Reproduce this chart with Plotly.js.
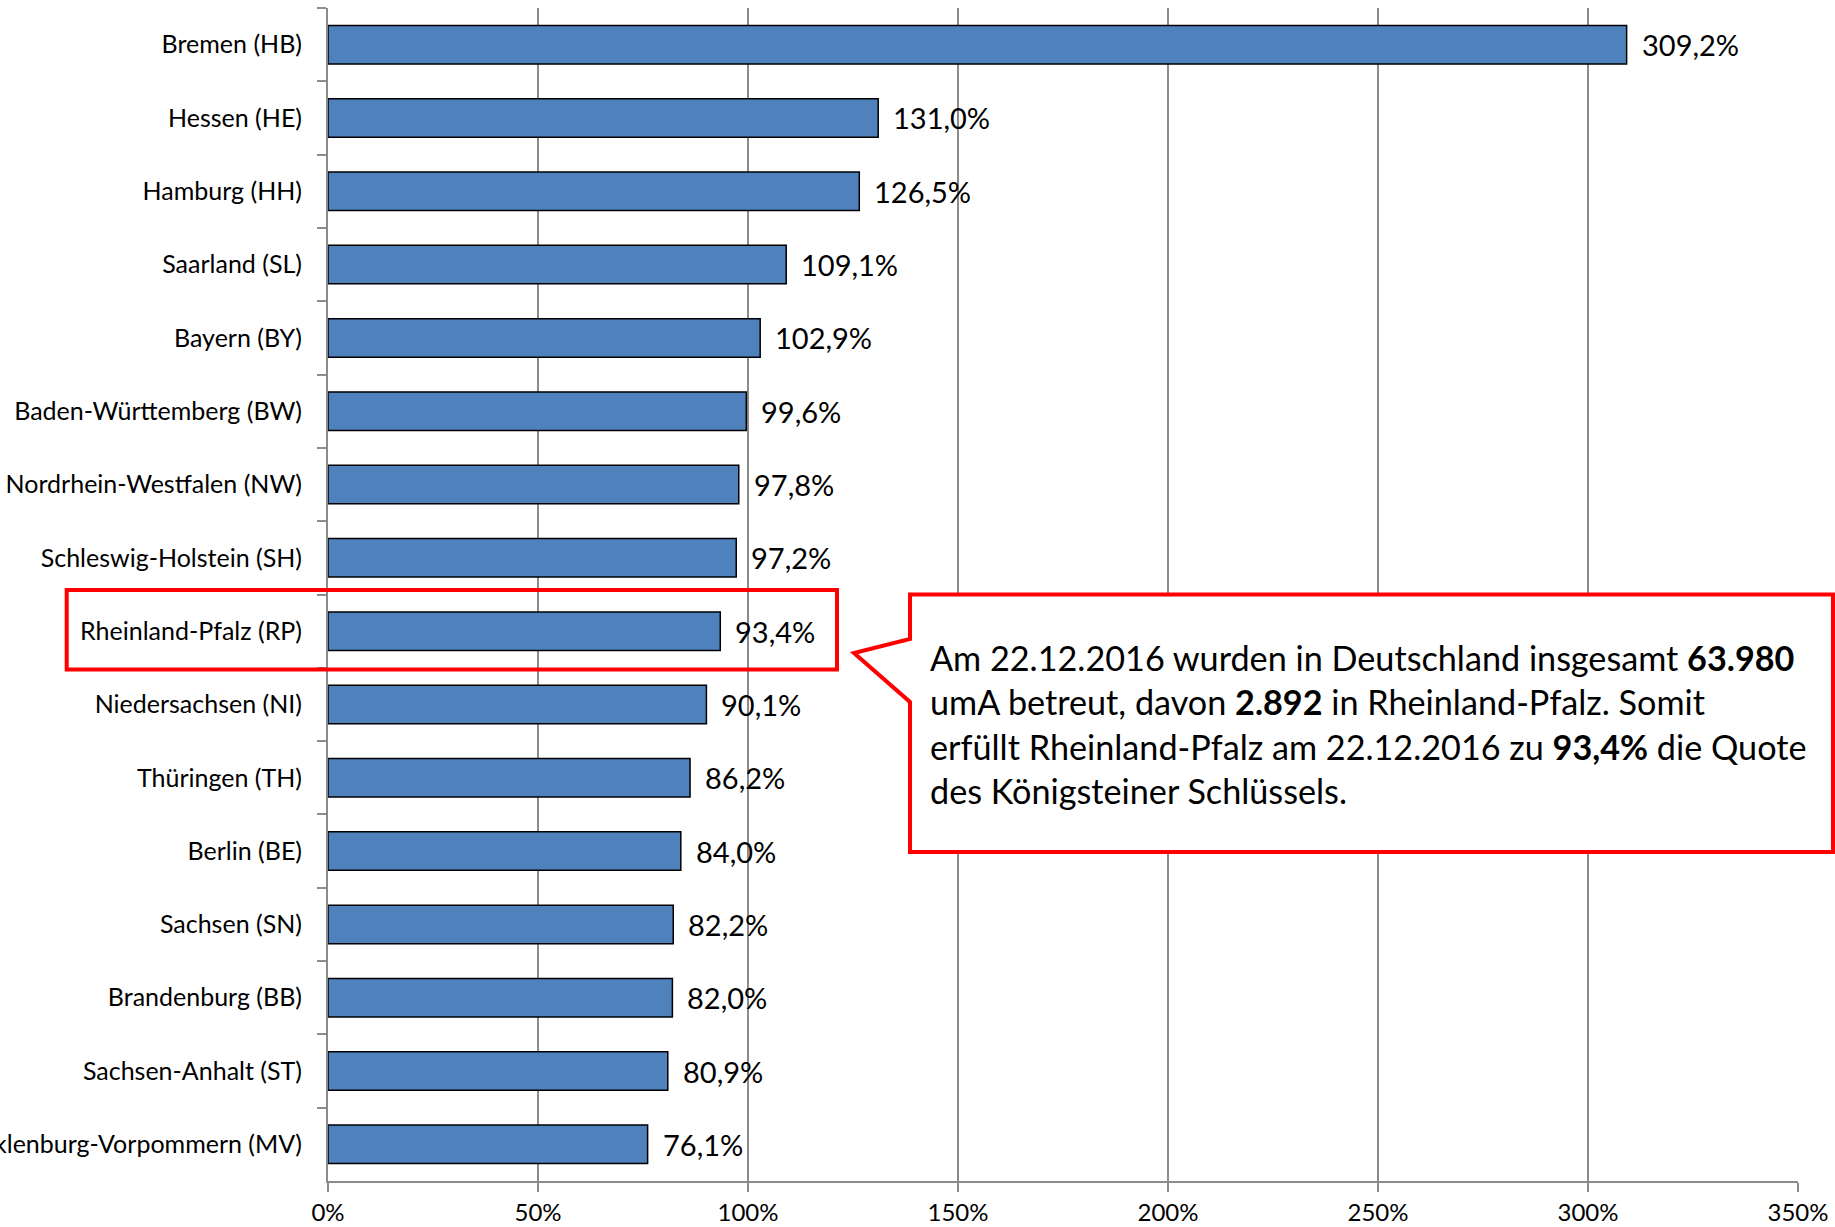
<!DOCTYPE html>
<html>
<head>
<meta charset="utf-8">
<script src="https://cdn.plot.ly/plotly-3.0.1.min.js"></script>
<style>html,body{margin:0;padding:0;background:#fff;}#chart{width:1835px;height:1227px;}</style>
</head>
<body>
<div id="chart"></div>
<script>
const categories = [
  "Bremen (HB)", "Hessen (HE)", "Hamburg (HH)", "Saarland (SL)", "Bayern (BY)",
  "Baden-Württemberg (BW)", "Nordrhein-Westfalen (NW)", "Schleswig-Holstein (SH)",
  "Rheinland-Pfalz (RP)", "Niedersachsen (NI)", "Thüringen (TH)", "Berlin (BE)",
  "Sachsen (SN)", "Brandenburg (BB)", "Sachsen-Anhalt (ST)", "Mecklenburg-Vorpommern (MV)"
];
const values = [309.2, 131.0, 126.5, 109.1, 102.9, 99.6, 97.8, 97.2, 93.4, 90.1, 86.2, 84.0, 82.2, 82.0, 80.9, 76.1];
const xTickValues = [0, 50, 100, 150, 200, 250, 300, 350];
const xTickLabels = ["0%", "50%", "100%", "150%", "200%", "250%", "300%", "350%"];
const calloutLines = [
  "Am 22.12.2016 wurden in Deutschland insgesamt <b>63.980</b>",
  "umA betreut, davon <b>2.892</b> in Rheinland-Pfalz. Somit",
  "erfüllt Rheinland-Pfalz am 22.12.2016 zu <b>93,4%</b> die Quote",
  "des Königsteiner Schlüssels."
];

const W = 1835, H = 1227;
const M = {l: 328, r: 37, t: 8, b: 46};
const pw = W - M.l - M.r, ph = H - M.t - M.b;
const px = x => (x - M.l) / pw;
const py = y => (H - M.b - y) / ph;

const FONT = "Lato, 'Open Sans', sans-serif";
const GRID = "#8c8c8c";

const fmt = v => v.toFixed(1).replace(".", ",") + "%";

const trace = {
  type: "bar",
  orientation: "h",
  x: values,
  y: categories,
  marker: {color: "#4f81bd", line: {color: "#000000", width: 1.5}},
  hoverinfo: "skip"
};

const annotations = values.map((v, i) => ({
  x: v, y: categories[i], xref: "x", yref: "y",
  text: fmt(v), showarrow: false, xanchor: "left", yanchor: "middle",
  xshift: 13, font: {family: FONT, size: 29, color: "#000"}
}));

annotations.push({
  xref: "paper", yref: "paper",
  x: px(928), y: py(724),
  xanchor: "left", yanchor: "middle", align: "left",
  showarrow: false,
  text: calloutLines.join("<br>"),
  font: {family: FONT, size: 34.2, color: "#000"}
});

const path = [[910, 594.5], [1833, 594.5], [1833, 852], [910, 852], [910, 702], [854, 653], [910, 639]]
  .map((p, i) => (i ? "L" : "M") + px(p[0]).toFixed(5) + "," + py(p[1]).toFixed(5)).join(" ") + " Z";

const shapes = [
  {type: "rect", xref: "paper", yref: "paper", x0: px(66.7), x1: px(837), y0: py(590), y1: py(669.4),
   line: {color: "#ff0000", width: 4}, fillcolor: "rgba(0,0,0,0)", layer: "above"},
  {type: "path", xref: "paper", yref: "paper", path: path,
   line: {color: "#ff0000", width: 4}, fillcolor: "#ffffff", layer: "above"}
];

const layout = {
  width: W, height: H,
  margin: M,
  paper_bgcolor: "#fff", plot_bgcolor: "#fff",
  showlegend: false,
  bargap: 0.474,
  separators: ",.",
  font: {family: FONT, color: "#000"},
  xaxis: {
    range: [0, 350], tickmode: "array", tickvals: xTickValues, ticktext: xTickLabels,
    showgrid: true, gridcolor: GRID, gridwidth: 2,
    showline: true, linecolor: GRID, linewidth: 2,
    ticks: "outside", ticklen: 9, tickcolor: GRID, tickwidth: 2,
    zeroline: false, automargin: false,
    tickfont: {family: FONT, size: 24, color: "#000"},
    fixedrange: true
  },
  yaxis: {
    autorange: "reversed", type: "category",
    showgrid: false, showline: true, linecolor: GRID, linewidth: 2,
    ticks: "outside", tickson: "boundaries", ticklen: 9, tickcolor: GRID, tickwidth: 2,
    tickfont: {family: FONT, size: 25, color: "#000"},
    ticklabelstandoff: 19, automargin: false, fixedrange: true
  },
  annotations: annotations,
  shapes: shapes
};

Plotly.newPlot("chart", [trace], layout, {staticPlot: true, displayModeBar: false});
</script>
</body>
</html>
